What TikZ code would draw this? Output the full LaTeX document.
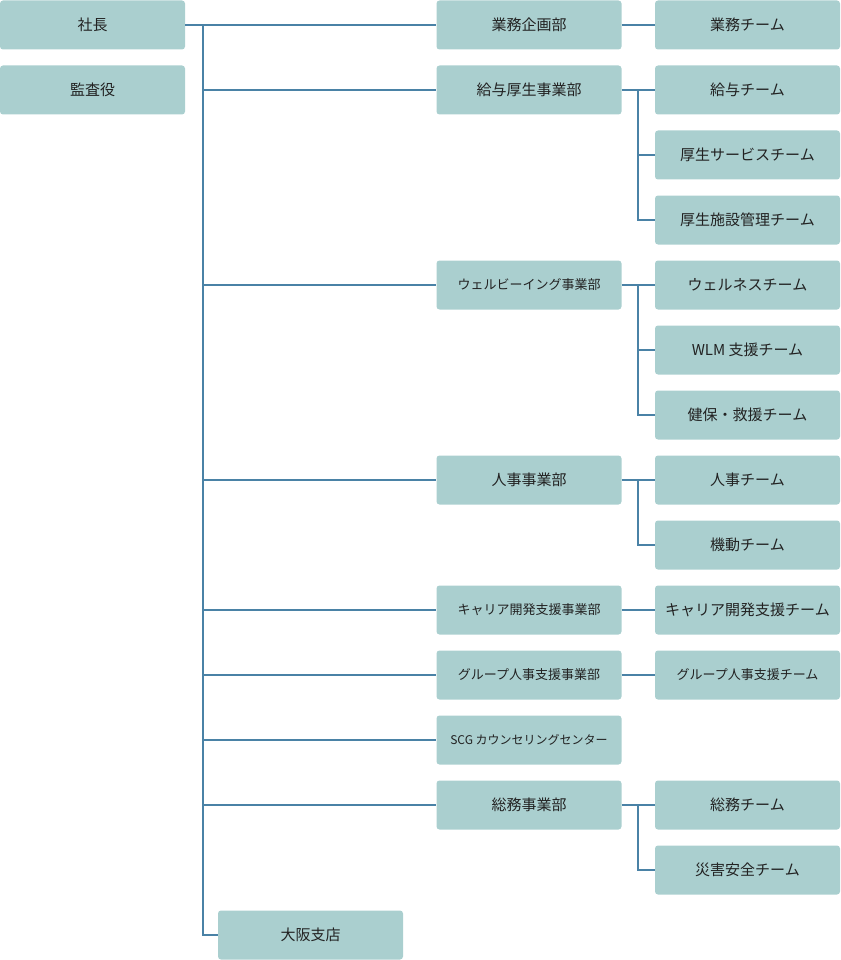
\documentclass[tikz,border=0pt]{standalone}
\usepackage{fontspec}
\newfontfamily\cjk{Noto Sans CJK JP}
\begin{document}
\begin{tikzpicture}[x=1pt,y=-1pt,
  box/.style={fill=boxc,draw=none,rounded corners=3pt,minimum width=185pt,minimum height=49pt,inner sep=0pt,font=\cjk\fontsize{15}{15}\selectfont,text=txt},
  sm/.style={font=\cjk\fontsize{13}{13}\selectfont},
  xs/.style={font=\cjk\fontsize{12}{12}\selectfont},
  ln/.style={draw=linec,line width=1.5pt}]
\definecolor{boxc}{HTML}{AACFCF}
\definecolor{linec}{HTML}{4A82A6}
\definecolor{txt}{HTML}{222222}
\useasboundingbox (0,0) rectangle (840,960);
\def\rowy#1{\fpeval{25+65*#1}}
\node[box] (ceo) at (92.5,25) {社長};
\node[box] (aud) at (92.5,90) {監査役};
\node[box] (d1) at (529,25) {業務企画部};
\node[box] (d2) at (529,90) {給与厚生事業部};
\node[box,sm] (d3) at (529,285) {ウェルビーイング事業部};
\node[box] (d4) at (529,480) {人事事業部};
\node[box,sm] (d5) at (529,610) {キャリア開発支援事業部};
\node[box,sm] (d6) at (529,675) {グループ人事支援事業部};
\node[box,xs] (d7) at (529,740) {SCG カウンセリングセンター};
\node[box] (d8) at (529,805) {総務事業部};
\node[box] (osk) at (310.5,935) {大阪支店};
\node[box] (t1) at (747.5,25) {業務チーム};
\node[box] (t2) at (747.5,90) {給与チーム};
\node[box] (t3) at (747.5,155) {厚生サービスチーム};
\node[box] (t4) at (747.5,220) {厚生施設管理チーム};
\node[box] (t5) at (747.5,285) {ウェルネスチーム};
\node[box] (t6) at (747.5,350) {WLM 支援チーム};
\node[box] (t7) at (747.5,415) {健保・救援チーム};
\node[box] (t8) at (747.5,480) {人事チーム};
\node[box] (t9) at (747.5,545) {機動チーム};
\node[box] (t10) at (747.5,610) {キャリア開発支援チーム};
\node[box,sm] (t11) at (747.5,675) {グループ人事支援チーム};
\node[box] (t12) at (747.5,805) {総務チーム};
\node[box] (t13) at (747.5,870) {災害安全チーム};
\coordinate (top) at (203,25);
\draw[ln] (ceo.east) -- (d1.west);
\draw[ln] (top) |- (osk.west);
\foreach \d in {d2,d3,d4,d5,d6,d7,d8} \draw[ln] (top |- \d.west) -- (\d.west);
\draw[ln] (d1.east) -- (t1.west);
\draw[ln] (d5.east) -- (t10.west);
\draw[ln] (d6.east) -- (t11.west);
\foreach \d/\a/\b in {d2/t2/t4,d3/t5/t7,d4/t8/t9,d8/t12/t13}{
  \draw[ln] (\d.east) -- (\a.west);
  \draw[ln] (638,0 |- \a.west) |- (\b.west);
}
\draw[ln] (638,0 |- t2.west) |- (t3.west);
\draw[ln] (638,0 |- t5.west) |- (t6.west);
\end{tikzpicture}
\end{document}
